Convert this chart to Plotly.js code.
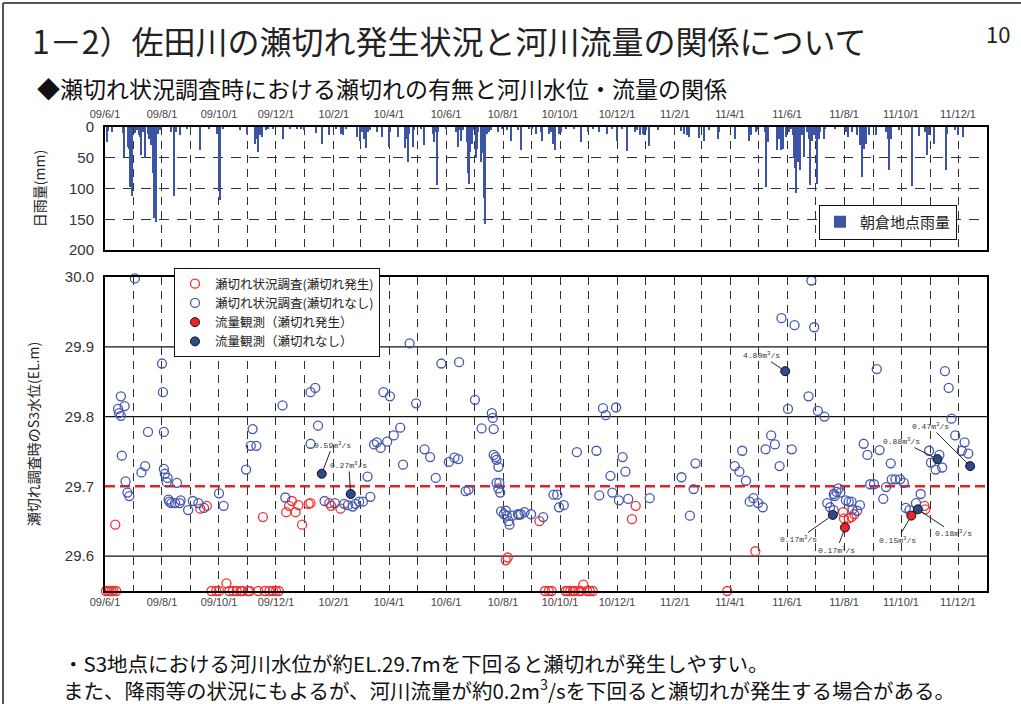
<!DOCTYPE html>
<html><head><meta charset="utf-8">
<script src="https://cdn.plot.ly/plotly-3.0.1.min.js"></script>
<style>html,body{margin:0;padding:0;background:#fff}#chart{width:1021px;height:704px}</style>
</head><body><div id="chart"></div>
<script>
// Dates are stored as day offsets from 2009-06-01
const START = Date.UTC(2009, 5, 1);
function dayToDate(d) { return new Date(START + d * 86400000).toISOString().slice(0, 10); }

// ---- Daily rainfall at Asakura (mm) ----
const rainDay = [2,4,8,20,21,25,26,27,29,32,35,37,38,39,41,43,46,47,49,50,52,53,55,57,59,71,74,76,81,88,102,112,120,122,123,127,145,152,161,162,164,166,168,173,175,180,191,198,206,210,213,226,232,240,247,253,255,258,270,273,275,277,279,280,282,284,291,297,304,305,314,321,323,325,326,330,331,339,342,351,352,354,356,357,365,376,378,380,381,383,388,389,390,391,393,394,397,398,400,403,405,406,407,409,411,413,421,425,431,435,442,446,454,457,462,467,468,476,478,480,482,486,488,494,502,510,517,523,529,538,543,548,554,559,567,570,573,576,577,579,582,592,617,620,623,625,636,641,647,656,657,675,690,692,697,698,707,708,710,720,722,724,726,729,732,734,737,738,739,740,742,744,746,748,752,754,755,757,759,761,762,764,766,770,771,782,793,795,800,805,808,810,811,813,815,818,825,836,838,839,841,850,864,871,878,880,882,887,900,901,910,913,919];
const rainMm  = [24,7,8,9,48,32,35,97,113,9,5,13,16,46,8,50,11,19,30,19,75,148,155,11,5,8,113,8,13,3,37,3,11,100,119,3,5,11,27,19,40,13,16,5,3,3,20,4,4,4,5,9,27,13,4,12,13,4,16,22,8,19,13,34,8,5,8,16,32,8,16,34,19,57,11,32,5,3,29,11,24,8,94,8,4,8,32,5,22,5,24,75,92,40,27,5,51,35,8,57,43,116,157,11,8,5,8,3,5,22,5,38,4,3,11,8,22,12,8,27,38,11,8,3,2,24,8,3,8,11,3,23,4,39,8,5,13,11,13,5,31,5,7,11,13,16,18,23,5,19,8,19,22,13,8,5,8,97,24,38,19,38,35,16,8,3,13,51,67,108,57,70,13,49,8,19,94,22,13,19,92,19,8,19,3,4,8,16,8,13,30,81,46,35,27,13,13,8,19,70,19,5,96,15,8,46,13,27,70,11,5,13,16];

// ---- S3 water level at survey time (EL.m) ----
// survey: no cut-off
const surveyOkDay = [32,14,15,17,17,21,18,61,62,46,63,190,158,156,162,220,225,228,220,326,298,305,333,316,309,302,291,288,295,342,348,360,379,396,414,415,403,416,319,368,374,378,416,418,419,421,
  22,24,26,39,43,63,64,67,66,77,68,69,71,75,81,80,89,94,100,106,122,127,151,193,235,246,256,260,265,268,272,276,284,281,354,386,389,419,422,421,423,424,427,429,430,432,433,436,442,
  756,724,738,759,826,899,903,753,731,763,770,906,533,536,547,713,717,707,735,682,812,816,829,910,920,917,924,882,893,505,526,554,
  480,484,486,491,469,443,445,449,456,529,541,543,550,557,560,583,617,626,630,632,674,679,686,690,694,699,704,722,773,776,780,780,781,783,785,787,793,796,799,800,805,808,819,823,833,836,841,842,846,851,855,857,861,868,873,884,889,896];
const surveyOkLevel = [29.998,29.811,29.805,29.801,29.829,29.815,29.744,29.876,29.835,29.778,29.778,29.816,29.782,29.758,29.758,29.835,29.841,29.787,29.761,29.905,29.835,29.829,29.819,29.784,29.773,29.764,29.763,29.760,29.755,29.753,29.742,29.876,29.878,29.824,29.805,29.798,29.783,29.782,29.731,29.735,29.741,29.739,29.745,29.742,29.738,29.728,
  29.707,29.691,29.686,29.720,29.729,29.725,29.718,29.712,29.706,29.705,29.681,29.678,29.676,29.676,29.680,29.676,29.666,29.679,29.676,29.669,29.690,29.672,29.724,29.684,29.679,29.676,29.675,29.673,29.671,29.675,29.678,29.678,29.685,29.714,29.712,29.693,29.695,29.705,29.705,29.697,29.691,29.664,29.660,29.665,29.658,29.650,29.645,29.658,29.660,
  29.995,29.941,29.931,29.928,29.868,29.865,29.841,29.829,29.811,29.808,29.800,29.797,29.812,29.802,29.813,29.773,29.760,29.753,29.753,29.751,29.761,29.745,29.752,29.773,29.763,29.751,29.747,29.751,29.745,29.749,29.751,29.742,
  29.688,29.688,29.670,29.673,29.656,29.659,29.660,29.663,29.660,29.687,29.715,29.691,29.680,29.721,29.682,29.683,29.713,29.658,29.696,29.733,29.729,29.721,29.708,29.678,29.683,29.676,29.670,29.729,29.676,29.670,29.666,29.689,29.686,29.692,29.697,29.691,29.680,29.678,29.678,29.667,29.665,29.673,29.703,29.703,29.682,29.699,29.733,29.710,29.710,29.710,29.705,29.669,29.666,29.676,29.689,29.734,29.724,29.727];

// survey: cut-off occurred
const surveyCutDay = [1,3,5,7,9,12,11,102,109,169,194,197,200,204,207,211,218,220,240,242,252,
  114,119,122,130,133,137,141,145,147,153,155,164,171,176,180,183,186,
  429,431,465,564,568,696,790,791,796,799,802,877,878,
  471,475,478,493,495,498,501,503,507,509,512,516,519,522,666];
const surveyCutLevel = [29.55,29.55,29.55,29.55,29.55,29.55,29.645,29.668,29.672,29.656,29.663,29.672,29.679,29.663,29.673,29.645,29.675,29.676,29.676,29.672,29.668,
  29.55,29.55,29.55,29.561,29.55,29.55,29.55,29.55,29.55,29.55,29.55,29.55,29.55,29.55,29.55,29.55,29.55,
  29.594,29.598,29.650,29.653,29.672,29.607,29.663,29.654,29.654,29.656,29.660,29.672,29.667,
  29.55,29.55,29.55,29.55,29.55,29.55,29.55,29.55,29.55,29.55,29.559,29.55,29.55,29.55,29.55];

// flow observation: cut-off occurred
const flowCutDay = [792, 863];
const flowCutLevel = [29.641, 29.658];
const flowCutQ = ['0.17', '0.15'];

// flow observation: no cut-off
const flowOkDay = [232, 263, 728, 779, 870, 891, 926];
const flowOkLevel = [29.718, 29.689, 29.865, 29.659, 29.667, 29.739, 29.729];
const flowOkQ = ['0.59', '0.27', '4.80', '0.17', '0.18', '0.88', '0.47'];

// label offsets (px) for the discharge callouts
const flowCutOffset = [[-8, 22], [-14, 24]];
const flowOkOffset = [[11, -29], [-2, -29], [-24, -16], [-34, 24], [36, 24], [-36, -18], [-40, -40]];

const JP = '"Noto Sans CJK JP", "Noto Sans", sans-serif';
const LAT = '"Liberation Sans", Arial, sans-serif';
const W = 1021, H = 704;
const xDom = [105 / W, 987 / W];
const xRange = ['2009-06-01', '2012-01-01'];
const gridDashV = '8px,6px';

const traces = [
  { type: 'bar', name: '朝倉地点雨量', x: rainDay.map(dayToDate), y: rainMm,
    width: 86400000 * 1.6, marker: { color: '#3b54a6', line: { width: 0 } },
    xaxis: 'x', yaxis: 'y', legend: 'legend2' },
  { type: 'scatter', mode: 'markers', name: '瀬切れ状況調査(瀬切れ発生)',
    x: surveyCutDay.map(dayToDate), y: surveyCutLevel, xaxis: 'x2', yaxis: 'y2', cliponaxis: false,
    marker: { symbol: 'circle-open', size: 9, color: '#f03232', line: { width: 1.3 } } },
  { type: 'scatter', mode: 'markers', name: '瀬切れ状況調査(瀬切れなし)',
    x: surveyOkDay.map(dayToDate), y: surveyOkLevel, xaxis: 'x2', yaxis: 'y2', cliponaxis: false,
    marker: { symbol: 'circle-open', size: 9, color: '#4458b0', line: { width: 1.3 } } },
  { type: 'scatter', mode: 'markers', name: '流量観測（瀬切れ発生）',
    x: flowCutDay.map(dayToDate), y: flowCutLevel, xaxis: 'x2', yaxis: 'y2', cliponaxis: false,
    marker: { symbol: 'circle', size: 9, color: '#e8262a', line: { width: 1, color: '#111' } } },
  { type: 'scatter', mode: 'markers', name: '流量観測（瀬切れなし）',
    x: flowOkDay.map(dayToDate), y: flowOkLevel, xaxis: 'x2', yaxis: 'y2', cliponaxis: false,
    marker: { symbol: 'circle', size: 9, color: '#2f4a8c', line: { width: 1, color: '#111' } } }
];

function xaxisBase(extra) {
  return Object.assign({
    type: 'date', range: xRange, domain: xDom, dtick: 'M2', tick0: '2009-06-01',
    tickformat: '%y/%-m/%-d', ticks: '', showgrid: true, gridcolor: '#333', gridwidth: 1, griddash: gridDashV,
    minor: { dtick: 'M1', tick0: '2009-06-01', showgrid: true, gridcolor: '#333', gridwidth: 1, griddash: gridDashV },
    showline: true, mirror: true, linecolor: '#000', linewidth: 2, zeroline: false,
    tickfont: { family: LAT, size: 11, color: '#444' }
  }, extra);
}

const annotations = [];
function addLabels(days, levels, qs, offs) {
  days.forEach((d, i) => annotations.push({
    xref: 'x2', yref: 'y2', x: dayToDate(d), y: levels[i],
    text: qs[i] + 'm<sup>3</sup>/s', showarrow: true, arrowhead: 0, arrowwidth: 1, arrowcolor: '#222',
    ax: offs[i][0], ay: offs[i][1], standoff: 4,
    font: { family: '"Liberation Mono", "DejaVu Sans Mono", monospace', size: 8, color: '#333' }
  }));
}
addLabels(flowOkDay, flowOkLevel, flowOkQ, flowOkOffset);
addLabels(flowCutDay, flowCutLevel, flowCutQ, flowCutOffset);

annotations.push(
  { xref: 'paper', yref: 'paper', x: 30 / W, y: 1 - 40 / H, xanchor: 'left', yanchor: 'middle', showarrow: false,
    text: '1－2）佐田川の瀬切れ発生状況と河川流量の関係について', font: { family: JP, size: 32, color: '#222' } },
  { xref: 'paper', yref: 'paper', x: 1012 / W, y: 1 - 33 / H, xanchor: 'right', yanchor: 'middle', showarrow: false,
    text: '10', font: { family: JP, size: 22, color: '#222' } },
  { xref: 'paper', yref: 'paper', x: 35 / W, y: 1 - 88 / H, xanchor: 'left', yanchor: 'middle', showarrow: false,
    text: '◆瀬切れ状況調査時における瀬切れの有無と河川水位・流量の関係', font: { family: JP, size: 23, color: '#111' } },
  { xref: 'paper', yref: 'paper', x: 62 / W, y: 1 - 676 / H, xanchor: 'left', yanchor: 'middle', showarrow: false,
    align: 'left', borderpad: 0,
    text: '・S3地点における河川水位が約EL.29.7mを下回ると瀬切れが発生しやすい。<br>また、降雨等の状況にもよるが、河川流量が約0.2m<sup>3</sup>/sを下回ると瀬切れが発生する場合がある。',
    font: { family: JP, size: 20.5, color: '#111' } }
);

const shapes = [
  // slide frame
  { type: 'line', xref: 'paper', yref: 'paper', x0: 3 / W, x1: 3 / W, y0: 0, y1: 1 - 3 / H, line: { color: '#555', width: 2 } },
  { type: 'line', xref: 'paper', yref: 'paper', x0: 3 / W, x1: 1, y0: 1 - 3 / H, y1: 1 - 3 / H, line: { color: '#555', width: 2 } },
  // threshold line EL.29.7
  { type: 'line', xref: 'x2 domain', yref: 'y2', x0: 0, x1: 1, y0: 29.7, y1: 29.7, layer: 'below',
    line: { color: '#e82020', width: 2.5, dash: '10px,5px' } }
];
[29.6, 29.8, 29.9].forEach(v => shapes.push({ type: 'line', xref: 'x2 domain', yref: 'y2', x0: 0, x1: 1, y0: v, y1: v,
  layer: 'below', line: { color: '#111', width: 1.3 } }));

const layout = {
  width: W, height: H, margin: { l: 0, r: 0, t: 0, b: 0 }, paper_bgcolor: '#fff', plot_bgcolor: '#fff',
  font: { family: JP, color: '#222' }, showlegend: true, bargap: 0, hovermode: false,
  xaxis: xaxisBase({ side: 'top', anchor: 'y', ticklabelstandoff: 3 }),
  yaxis: { domain: [1 - 250 / H, 1 - 127 / H], range: [200, 0], tickvals: [0, 50, 100, 150, 200], ticks: '',
    showgrid: true, gridcolor: '#333', gridwidth: 1, griddash: '10px,8px', zeroline: false,
    showline: true, mirror: true, linecolor: '#000', linewidth: 2, anchor: 'x', ticklabelstandoff: 6,
    tickfont: { family: LAT, size: 15, color: '#333' },
    title: { text: '日雨量(mm)', standoff: 20, font: { family: JP, size: 14, color: '#222' } } },
  xaxis2: xaxisBase({ side: 'bottom', anchor: 'y2', matches: 'x' }),
  yaxis2: { domain: [1 - 591 / H, 1 - 277 / H], range: [29.55, 30.0], tickvals: [29.6, 29.7, 29.8, 29.9, 30.0],
    tickformat: '.1f', ticks: '', showgrid: false, zeroline: false, anchor: 'x2', ticklabelstandoff: 6,
    showline: true, mirror: true, linecolor: '#000', linewidth: 2,
    tickfont: { family: LAT, size: 15, color: '#333' },
    title: { text: '瀬切れ調査時のS3水位(EL.m)', standoff: 22, font: { family: JP, size: 14, color: '#222' } } },
  legend: { x: 174 / W, y: 1 - 268 / H, xanchor: 'left', yanchor: 'top', bgcolor: '#fff', bordercolor: '#111',
    borderwidth: 1, font: { family: JP, size: 12.5, color: '#222' }, traceorder: 'normal', itemwidth: 30 },
  legend2: { x: 957 / W, y: 1 - 222 / H, xanchor: 'right', yanchor: 'middle', bgcolor: '#fff', bordercolor: '#111',
    borderwidth: 1, font: { family: JP, size: 15, color: '#222' } },
  annotations: annotations, shapes: shapes
};

Plotly.newPlot('chart', traces, layout, { displayModeBar: false });
</script>
</body></html>
